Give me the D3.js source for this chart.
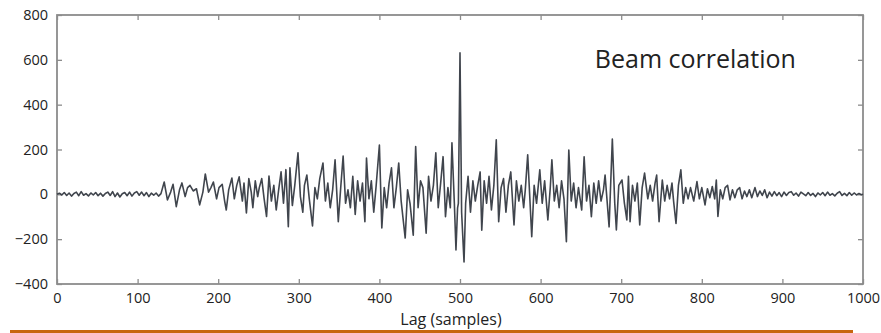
<!DOCTYPE html>
<html>
<head>
<meta charset="utf-8">
<script src="https://cdn.jsdelivr.net/npm/d3@7"></script>
<style>
  body { margin: 0; background: #fff; }
  svg { display: block; }
</style>
</head>
<body>
<svg id="chart" width="881" height="333"></svg>
<script>
const lagSamples = [
  0,3,6,9,12,15,18,21,24,27,30,33,36,39,42,45,48,51,54,57,60,63,66,69,72,75,78,81,84,87,90,93,96,99,102,105,108,111,114,117,120,123,126,129,
  133,137,141,144,148,152,155,159,162,165,169,173,177,181,184,188,191,194,198,201,205,208,210,213,217,220,223,226,230,232,235,238,241,243,246,249,251,254,257,260,263,266,269,272,275,278,281,
  284,287,289,292,295,299,302,305,307,310,313,317,320,323,326,330,333,336,339,342,345,349,352,355,358,361,364,367,370,373,376,379,382,384,387,390,393,396,400,403,406,409,412,415,418,421,424,427,
  432,435,438,442,445,448,451,454,458,461,464,467,470,473,476,479,482,485,488,490,493,495,497,498,500,502,505,507,510,513,516,519,522,525,527,530,533,536,539,542,545,548,551,554,557,560,563,567,570,573,576,579,581,584,589,592,595,599,
  602,605,609,612,614,617,620,623,626,629,632,635,638,641,644,647,651,654,657,660,663,666,669,672,675,678,680,685,689,692,694,697,701,704,707,709,711,714,717,720,723,726,729,733,736,739,742,744,747,751,754,757,760,763,765,768,771,774,777,780,783,786,790,794,797,800,804,807,810,813,816,818,820,823,826,829,832,835,838,841,844,847,850,853,856,859,862,866,869,872,875,878,881,884,887,890,893,896,899,
  902,905,908,911,914,917,920,923,926,929,932,935,938,941,944,947,950,953,956,959,962,965,968,971,974,977,980,983,986,989,992,995,998,1000
];
const corrValues = [
  0,5,-3,8,-5,6,-8,4,10,-6,12,-4,3,-7,6,-3,8,-6,5,-8,4,10,-5,12,-10,6,-12,3,8,-6,10,-8,6,12,-4,10,-6,8,-10,5,-4,6,-8,3,
  55,-25,10,45,-55,20,51,-10,30,40,15,25,-47,10,91,10,30,55,-20,30,45,-30,-70,20,73,-20,40,78,-30,50,-83,70,10,-60,60,-10,30,70,-20,-99,82,-30,40,-70,20,100,-40,
  110,-144,118,-50,40,185,-10,-80,40,86,-20,-141,30,-20,70,140,-30,50,-60,20,154,-122,30,171,-40,20,-60,80,-90,60,-30,50,-122,162,-20,60,-80,40,220,-150,30,-60,50,118,-60,30,140,-30,
  -195,20,-40,-182,213,-60,60,30,-173,80,-30,40,185,-60,50,168,-100,30,-60,230,-40,-248,-60,-40,631,-80,-302,-40,80,-80,60,-30,40,100,-160,60,-40,80,-70,40,243,-122,30,70,-80,40,100,-137,60,-30,40,-60,20,176,-189,40,-40,109,
  -40,60,-114,30,154,-30,40,-60,60,-20,-211,198,-30,50,-60,30,-70,167,-30,40,-100,50,-40,60,-30,20,86,-145,247,-40,-159,40,64,-40,-114,80,-122,40,-30,50,-137,30,95,-20,40,-30,50,86,-122,64,-30,40,-20,50,-30,-130,40,109,-40,30,-20,30,-30,57,-20,30,-47,25,-15,35,-20,64,-99,20,-20,30,40,-25,20,-15,20,30,-20,15,-10,20,-15,30,-10,15,-5,20,-15,10,-8,12,-6,8,-10,
  10,-5,8,12,-4,6,-8,10,2,-6,8,-5,4,-10,6,-3,8,-6,10,-4,3,-7,5,12,-5,4,-6,8,-4,6,-3,4,-2,0
];
const xTicks = [0, 100, 200, 300, 400, 500, 600, 700, 800, 900, 1000];
const yTicks = [-400, -200, 0, 200, 400, 600, 800];
const xLabel = "Lag (samples)";
const title = "Beam correlation";

const margin = {top: 15, right: 18, bottom: 49, left: 57};
const width = 881 - margin.left - margin.right;
const height = 333 - margin.top - margin.bottom;

const svg = d3.select("#chart");
const g = svg.append("g").attr("transform", `translate(${margin.left},${margin.top})`);

const x = d3.scaleLinear().domain([0, 1000]).range([0, width]);
const y = d3.scaleLinear().domain([-400, 800]).range([height, 0]);

const fmt = d => d < 0 ? "\u2212" + Math.abs(d) : String(d);
const axisColor = "#8c8c8c";
const font = "'Open Sans', sans-serif";

function styleAxis(sel) {
  sel.select(".domain").remove();
  sel.selectAll(".tick line").attr("stroke", axisColor).attr("stroke-width", 1.3);
  sel.selectAll(".tick text").attr("fill", "#222").style("font-family", font).style("font-size", "14.5px");
}

g.append("g").attr("transform", `translate(0,${height})`)
  .call(d3.axisBottom(x).tickValues(xTicks).tickSize(-5).tickPadding(9).tickFormat(fmt))
  .call(styleAxis);
g.append("g")
  .call(d3.axisTop(x).tickValues(xTicks).tickSize(-5).tickFormat(""))
  .call(styleAxis);
g.append("g")
  .call(d3.axisLeft(y).tickValues(yTicks).tickSize(-5).tickPadding(9).tickFormat(fmt))
  .call(styleAxis);
g.append("g").attr("transform", `translate(${width},0)`)
  .call(d3.axisRight(y).tickValues(yTicks).tickSize(-5).tickFormat(""))
  .call(styleAxis);

g.append("rect")
  .attr("width", width).attr("height", height)
  .attr("fill", "none").attr("stroke", axisColor).attr("stroke-width", 1.8);

const samples = lagSamples.map((lag, i) => ({lag: lag, v: corrValues[i]}));
const line = d3.line().x(d => x(d.lag)).y(d => y(d.v));

g.append("path")
  .datum(samples)
  .attr("fill", "none")
  .attr("stroke", "#40454d")
  .attr("stroke-width", 1.6)
  .attr("stroke-linejoin", "round")
  .attr("d", line);

g.append("text")
  .attr("x", x(792)).attr("y", y(563))
  .attr("text-anchor", "middle")
  .attr("fill", "#222")
  .style("font-family", font).style("font-size", "25px")
  .text(title);

svg.append("text")
  .attr("x", 451).attr("y", 325)
  .attr("text-anchor", "middle")
  .attr("fill", "#222")
  .style("font-family", font).style("font-size", "16px")
  .text(xLabel);

// orange rule along the bottom edge
svg.append("rect")
  .attr("x", 10).attr("y", 330).attr("width", 843).attr("height", 3)
  .attr("fill", "#c8650f");
</script>
</body>
</html>
